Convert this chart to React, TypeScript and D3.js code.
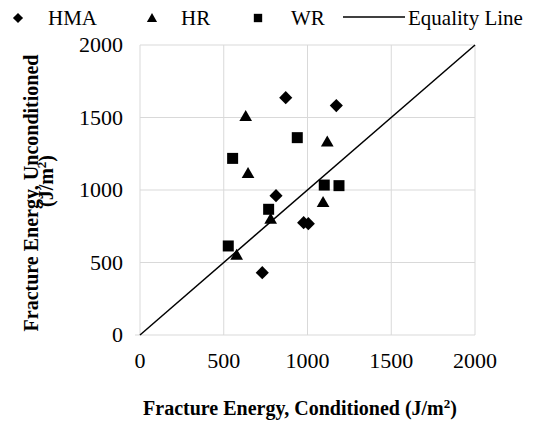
import React from "react";
import * as d3 from "d3";

const hmaX = [870, 1172, 812, 977, 1005, 730];
const hmaY = [1637, 1582, 961, 775, 768, 430];
const hrX = [631, 1118, 645, 1093, 780, 577];
const hrY = [1501, 1326, 1108, 908, 793, 545];
const wrX = [939, 553, 1100, 1188, 768, 527];
const wrY = [1361, 1218, 1034, 1030, 867, 614];
const ticks = [0, 500, 1000, 1500, 2000];
const equality = [0, 2000];

const W = 535, H = 425;
const L = 140, R = 475, T = 45, B = 335;
const FONT = "'Liberation Serif', 'Times New Roman', serif";

export default function App() {
  const x = d3.scaleLinear().domain([0, 2000]).range([L, R]);
  const y = d3.scaleLinear().domain([0, 2000]).range([B, T]);
  const diamond = d3.symbol().type(d3.symbolDiamond2).size(110)();
  const tri = d3.symbol().type(d3.symbolTriangle).size(70)();
  const sq = d3.symbol().type(d3.symbolSquare).size(121)();
  const diamondS = d3.symbol().type(d3.symbolDiamond2).size(65)();
  const triS = d3.symbol().type(d3.symbolTriangle).size(45)();
  const sqS = d3.symbol().type(d3.symbolSquare).size(70)();
  const line = d3.line<number>().x((d) => x(d)).y((d) => y(d));
  return (
    <svg width={W} height={H} style={{ position: "absolute", left: 0, top: 0 }} fontFamily={FONT}>
      <rect width={W} height={H} fill="#fff" />
      {ticks.map((t) => (
        <g key={"g" + t}>
          <line x1={x(t)} x2={x(t)} y1={T} y2={B} stroke="#d9d9d9" strokeWidth={1} />
          <line x1={L} x2={R} y1={y(t)} y2={y(t)} stroke="#d9d9d9" strokeWidth={1} />
          <text x={x(t)} y={B + 33} textAnchor="middle" fontSize={22}>{t}</text>
          <text x={L - 17} y={y(t) + 7} textAnchor="end" fontSize={22}>{t}</text>
        </g>
      ))}
      <line x1={L - 5} x2={L} y1={B} y2={B} stroke="#d9d9d9" />
      <path d={line(equality) || ""} stroke="#000" strokeWidth={1.5} fill="none" />
      {hmaX.map((v, i) => (
        <path key={"h" + i} d={diamond} transform={`translate(${x(v)},${y(hmaY[i])})`} fill="#000" />
      ))}
      {hrX.map((v, i) => (
        <path key={"r" + i} d={tri} transform={`translate(${x(v)},${y(hrY[i])})`} fill="#000" />
      ))}
      {wrX.map((v, i) => (
        <path key={"w" + i} d={sq} transform={`translate(${x(v)},${y(wrY[i])})`} fill="#000" />
      ))}
      {/* legend */}
      <path d={diamondS} transform="translate(18,18)" fill="#000" />
      <text x={48} y={25} fontSize={21}>HMA</text>
      <path d={triS} transform="translate(152,19)" fill="#000" />
      <text x={181} y={25} fontSize={21}>HR</text>
      <path d={sqS} transform="translate(258,18)" fill="#000" />
      <text x={291} y={25} fontSize={21}>WR</text>
      <line x1={343} x2={405} y1={17} y2={17} stroke="#000" strokeWidth={1.5} />
      <text x={408} y={25} fontSize={21}>Equality Line</text>
      {/* axis titles */}
      <text x={300} y={415} textAnchor="middle" fontSize={20} fontWeight="bold">
        Fracture Energy, Conditioned (J/m<tspan fontSize={13} dy={-7}>2</tspan><tspan dy={7}>)</tspan>
      </text>
      <text transform="translate(38,193) rotate(-90)" textAnchor="middle" fontSize={20} fontWeight="bold">
        Fracture Energy, Unconditioned
      </text>
      <text transform="translate(53,181) rotate(-90)" textAnchor="middle" fontSize={20} fontWeight="bold">
        (J/m<tspan fontSize={13} dy={-7}>2</tspan><tspan dy={7}>)</tspan>
      </text>
    </svg>
  );
}
